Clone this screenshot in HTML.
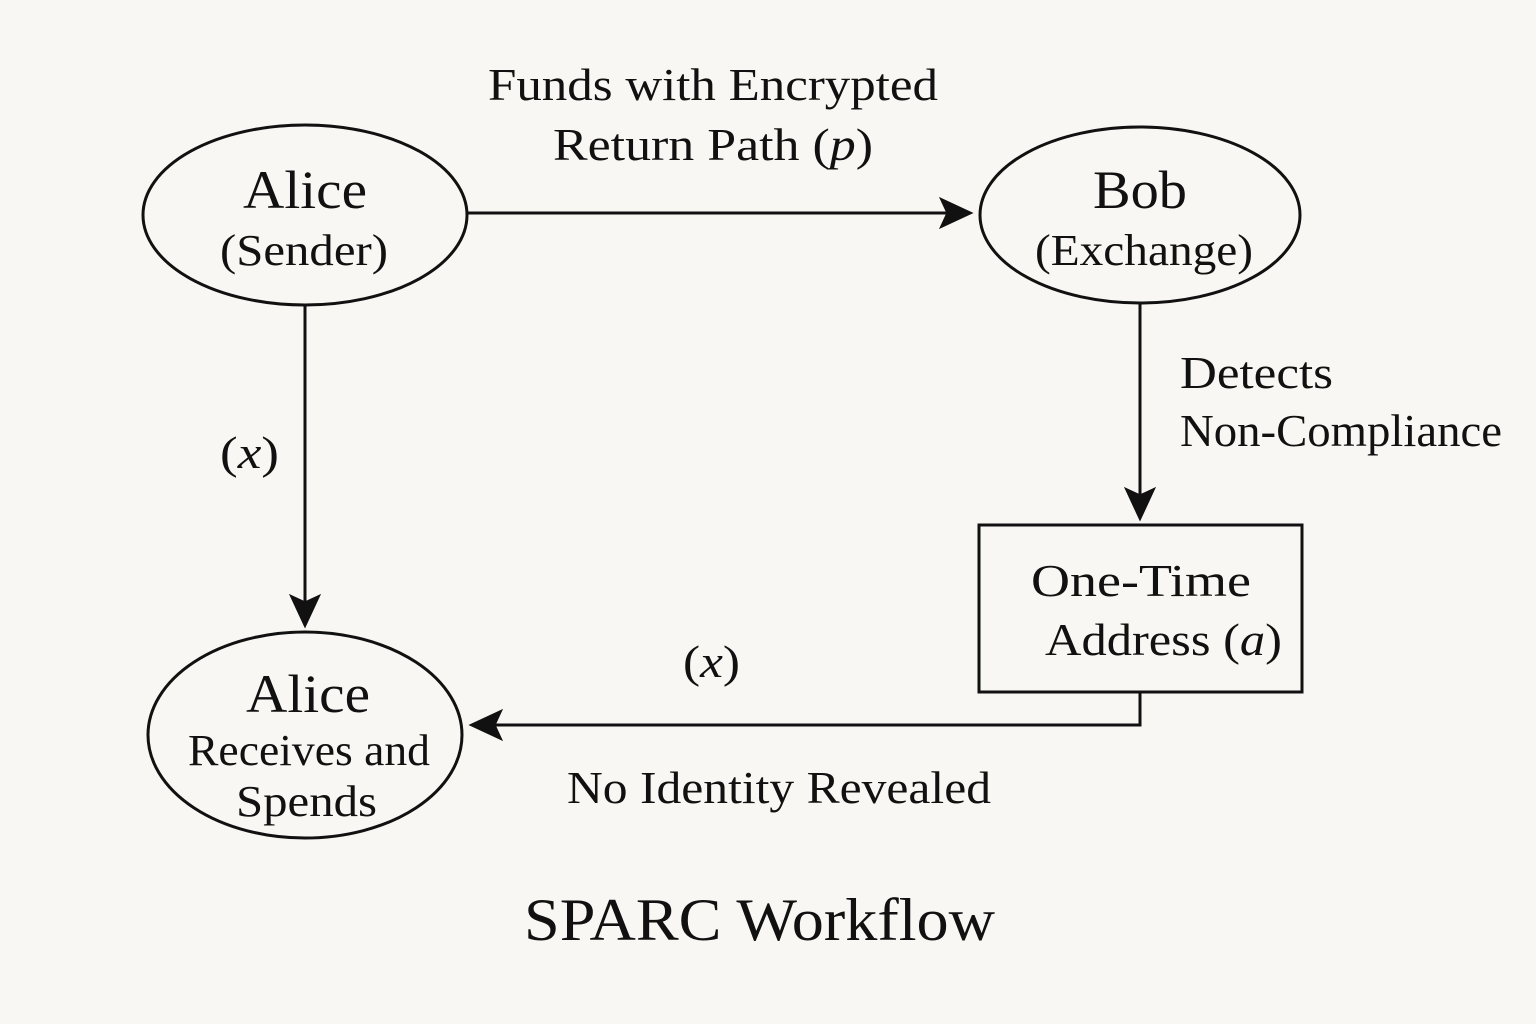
<!DOCTYPE html>
<html><head><meta charset="utf-8"><style>
html,body{margin:0;padding:0;background:#f8f7f3;}
svg{display:block;}
text{font-family:"Liberation Serif",serif;fill:#111;}
</style></head><body>
<svg width="1536" height="1024" viewBox="0 0 1536 1024" xmlns="http://www.w3.org/2000/svg">
<rect width="1536" height="1024" fill="#f8f7f3"/>
<g fill="none" stroke="#111" stroke-width="3">
<ellipse cx="305" cy="215" rx="162" ry="90"/>
<ellipse cx="1140" cy="215" rx="160" ry="88"/>
<ellipse cx="305" cy="735" rx="157" ry="103"/>
<rect x="979" y="525" width="323" height="167"/>
</g>
<g stroke="#111" stroke-width="3" fill="#111">
<line x1="468" y1="213" x2="948" y2="213"/>
<path d="M970,213 L942,200 L948,213 L942,226 Z"/>
<line x1="305" y1="305" x2="305" y2="602"/>
<path d="M305,625 L292,597 L305,603 L318,597 Z"/>
<line x1="1140" y1="303" x2="1140" y2="496"/>
<path d="M1140,518 L1127,490 L1140,496 L1153,490 Z"/>
<polyline points="1140,692 1140,725 494,725" fill="none"/>
<path d="M472,725 L500,712 L494,725 L500,738 Z"/>
</g>
<g font-size="46" lengthAdjust="spacingAndGlyphs">
<text x="488" y="100" textLength="450" lengthAdjust="spacingAndGlyphs">Funds with Encrypted</text>
<text x="553" y="160" textLength="320" lengthAdjust="spacingAndGlyphs">Return Path (<tspan font-style="italic">p</tspan>)</text>
<text x="243" y="208" font-size="54" textLength="124" lengthAdjust="spacingAndGlyphs">Alice</text>
<text x="220" y="265" font-size="44" textLength="168" lengthAdjust="spacingAndGlyphs">(Sender)</text>
<text x="1093" y="208" font-size="54" textLength="94" lengthAdjust="spacingAndGlyphs">Bob</text>
<text x="1035" y="265" font-size="44" textLength="218" lengthAdjust="spacingAndGlyphs">(Exchange)</text>
<text x="220" y="468" textLength="59" lengthAdjust="spacingAndGlyphs">(<tspan font-style="italic">x</tspan>)</text>
<text x="1180" y="388" textLength="153" lengthAdjust="spacingAndGlyphs">Detects</text>
<text x="1180" y="446" textLength="322" lengthAdjust="spacingAndGlyphs">Non-Compliance</text>
<text x="1031" y="596" textLength="220" lengthAdjust="spacingAndGlyphs">One-Time</text>
<text x="1045" y="655" textLength="237" lengthAdjust="spacingAndGlyphs">Address (<tspan font-style="italic">a</tspan>)</text>
<text x="683" y="677" textLength="57" lengthAdjust="spacingAndGlyphs">(<tspan font-style="italic">x</tspan>)</text>
<text x="246" y="712" font-size="54" textLength="124" lengthAdjust="spacingAndGlyphs">Alice</text>
<text x="188" y="765" font-size="44" textLength="242" lengthAdjust="spacingAndGlyphs">Receives and</text>
<text x="236" y="816" font-size="44" textLength="141" lengthAdjust="spacingAndGlyphs">Spends</text>
<text x="567" y="803" textLength="424" lengthAdjust="spacingAndGlyphs">No Identity Revealed</text>
<text x="524" y="940" font-size="60" textLength="471" lengthAdjust="spacingAndGlyphs">SPARC Workflow</text>
</g>
</svg>
</body></html>
